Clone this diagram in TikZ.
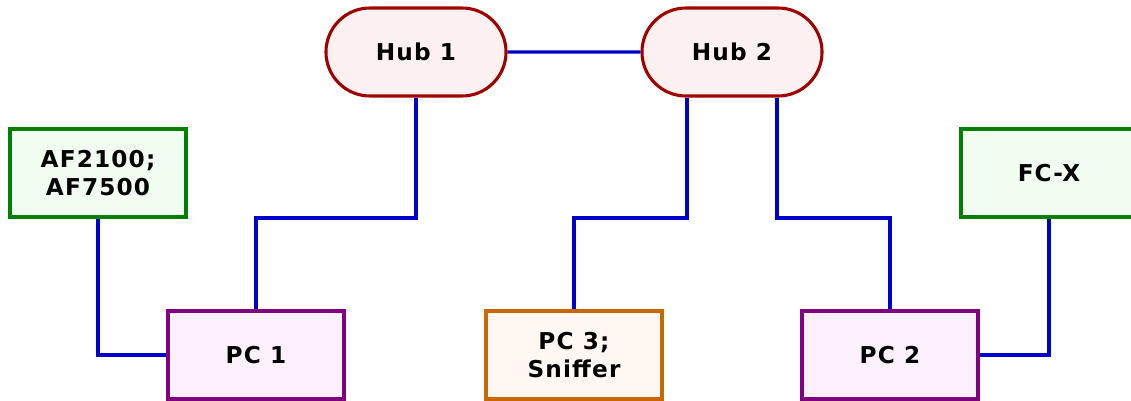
\documentclass[tikz,border=0pt]{standalone}
\usepackage{fontspec}
\setmainfont{DejaVu Sans}
\newfontfamily\boxfamily[LetterSpace=5]{DejaVu Sans}
\usetikzlibrary{shapes.misc,calc,positioning}
\definecolor{hubline}{HTML}{A00000}
\definecolor{hubfill}{HTML}{FDF0F0}
\definecolor{devline}{HTML}{008000}
\definecolor{devfill}{HTML}{F0FDF0}
\definecolor{pcline}{HTML}{800080}
\definecolor{pcfill}{HTML}{FDF0FD}
\definecolor{snfline}{HTML}{CC6600}
\definecolor{snffill}{HTML}{FFF8F2}
\definecolor{wire}{HTML}{0000CC}
\newcommand\labelfont{\boxfamily\fontsize{16.5pt}{20.5pt}\selectfont\bfseries}

\begin{document}
\begin{tikzpicture}[
  x=0.025cm, y=-0.025cm,
  box/.style={rectangle, draw, line width=2.2pt, minimum width=4.4cm, minimum height=2.2cm,
    align=center, font=\labelfont, inner sep=0pt},
  hub/.style={box, rounded rectangle, draw=hubline, fill=hubfill, minimum width=4.5cm},
  device/.style={box, draw=devline, fill=devfill},
  pc/.style={box, draw=pcline, fill=pcfill},
  sniffer/.style={box, draw=snfline, fill=snffill},
  link/.style={draw=wire, line width=2.3pt}
]
  \useasboundingbox (0,0) rectangle (1131,401);
  \node[hub] (hubA) at (416, 52)  {Hub 1};
  \node[hub] (hubB) at (732, 52)  {Hub 2};
  \node[device] (af) at (98, 173)   {AF2100;\\AF7500};
  \node[device] (fc) at (1049, 173) {FC-X};
  \node[pc] (pcA) at (256, 355)    {PC 1};
  \node[sniffer] (pcC) at (574, 355) {PC 3;\\Sniffer};
  \node[pc] (pcB) at (890, 355)    {PC 2};
  \coordinate (tapL) at ($(hubB.south)+(-45,0)$);
  \coordinate (tapR) at ($(hubB.south)+(45,0)$);
  \draw[link] (hubA) -- (hubB);
  \draw[link] (hubA.south) -- (hubA.south |- 0,218) -| (pcA.north);
  \draw[link] (tapL) -- (tapL |- 0,218) -| (pcC.north);
  \draw[link] (tapR) -- (tapR |- 0,218) -| (pcB.north);
  \draw[link] (af.south) |- (pcA.west);
  \draw[link] (fc.south) |- (pcB.east);
\end{tikzpicture}
\end{document}
